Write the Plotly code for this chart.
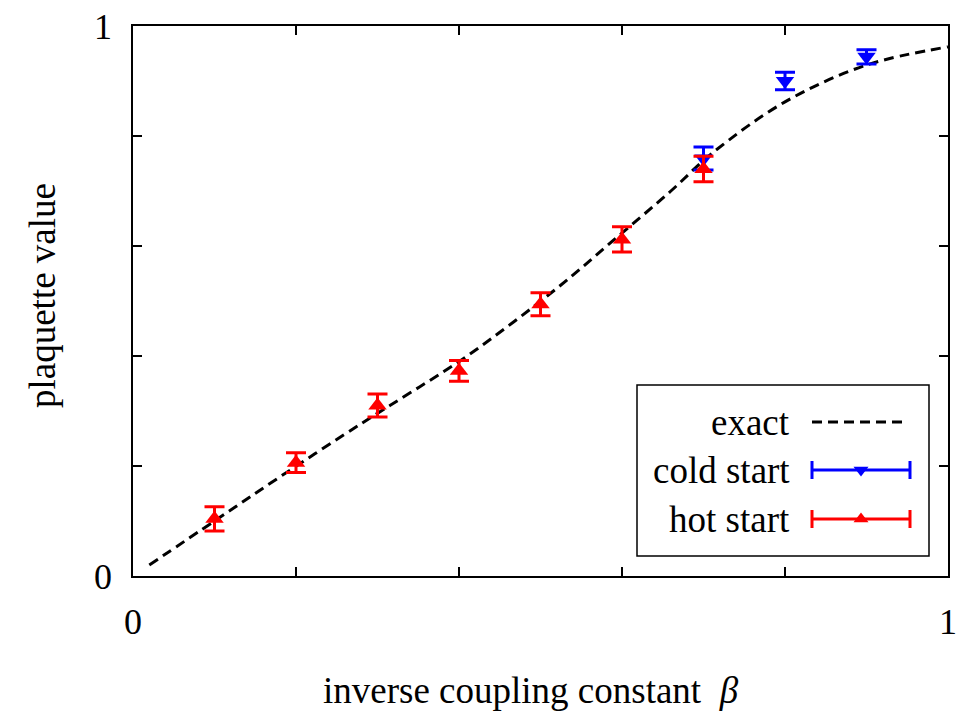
import plotly.graph_objects as go

# ---- data ----
beta_exact = [0.02, 0.10, 0.18, 0.28, 0.34, 0.41, 0.52, 0.59, 0.66, 0.71, 0.80, 0.90, 1.00]
plaq_exact = [0.020, 0.100, 0.180, 0.277, 0.333, 0.400, 0.523, 0.611, 0.700, 0.768, 0.862, 0.929, 0.962]

beta_cold = [0.7, 0.8, 0.9]
plaq_cold = [0.759, 0.900, 0.944]
err_cold = [0.021, 0.016, 0.013]

beta_hot = [0.1, 0.2, 0.3, 0.4, 0.5, 0.6, 0.7]
plaq_hot = [0.104, 0.206, 0.310, 0.373, 0.494, 0.612, 0.740]
err_hot = [0.022, 0.018, 0.021, 0.019, 0.021, 0.023, 0.023]

tick_vals = [0, 0.2, 0.4, 0.6, 0.8, 1.0]
tick_text = ["0", "", "", "", "", "1"]

legend_names = ["exact", "cold start", "hot start"]

# ---- layout constants (pixels) ----
W, H = 967, 718
L, R, T, B = 133, 948, 26, 576
FONT = "Liberation Serif"
FS = 37
TFS = 36
RED = "#ff0000"
BLUE = "#0000ff"


def px_x(p):
    return (p - L) / (R - L)


def px_y(p):
    return (B - p) / (B - T)


fig = go.Figure()

fig.add_trace(go.Scatter(
    x=beta_exact, y=plaq_exact, mode="lines", line_shape="spline",
    line=dict(color="black", width=3, dash="10px,6px"), hoverinfo="skip"))

fig.add_trace(go.Scatter(
    x=beta_cold, y=plaq_cold, mode="markers",
    marker=dict(symbol="triangle-down", size=16, color=BLUE),
    error_y=dict(type="data", array=err_cold, color=BLUE, thickness=3, width=10),
    cliponaxis=False))

fig.add_trace(go.Scatter(
    x=beta_hot, y=plaq_hot, mode="markers",
    marker=dict(symbol="triangle-up", size=16, color=RED),
    error_y=dict(type="data", array=err_hot, color=RED, thickness=3, width=10),
    cliponaxis=False))

# ---- custom legend on a pixel-coordinate overlay axis ----
box = dict(x0=637, x1=929, y0=385, y1=556)
rows = [422, 470, 519]
text_right = 792
s0, s1 = 812, 910
smid = (s0 + s1) / 2

fig.add_shape(type="rect", xref="x2", yref="y2", **box,
              line=dict(color="black", width=1.5), fillcolor="white", layer="below")

fig.add_shape(type="line", xref="x2", yref="y2", x0=s0, x1=s1 - 5, y0=rows[0], y1=rows[0],
              line=dict(color="black", width=3, dash="10px,6px"), layer="above")

for yy, col, sym in [(rows[1], BLUE, "triangle-down"), (rows[2], RED, "triangle-up")]:
    fig.add_trace(go.Scatter(
        x=[smid], y=[yy], xaxis="x2", yaxis="y2", mode="markers",
        marker=dict(symbol=sym, size=13, color=col),
        error_x=dict(type="data", array=[(s1 - s0) / 2], color=col, thickness=3, width=9),
        hoverinfo="skip", cliponaxis=False))

for name, yy in zip(legend_names, rows):
    fig.add_annotation(x=text_right, y=yy, xref="x2", yref="y2", text=name,
                       showarrow=False, xanchor="right", yanchor="middle",
                       font=dict(family=FONT, size=FS, color="black"))

# axis titles
fig.add_annotation(x=px_x(531), y=px_y(690), xref="paper", yref="paper",
                   text="inverse coupling constant  <i>β</i>", showarrow=False,
                   xanchor="center", yanchor="middle",
                   font=dict(family=FONT, size=FS, color="black"))
fig.add_annotation(x=px_x(42), y=px_y(296), xref="paper", yref="paper",
                   text="plaquette value",
                   textangle=-90, showarrow=False, xanchor="center", yanchor="middle",
                   font=dict(family=FONT, size=FS, color="black"))

axis_common = dict(
    range=[0, 1], tickvals=tick_vals, ticktext=tick_text, ticks="inside",
    ticklen=9, tickwidth=1.5, tickcolor="black", showline=True, linecolor="black",
    linewidth=1.5, mirror="ticks", showgrid=False, zeroline=False, automargin=False,
    tickfont=dict(family=FONT, size=TFS, color="black"))

fig.update_layout(
    width=W, height=H, showlegend=False,
    margin=dict(l=L, r=W - R, t=T, b=H - B, pad=0, autoexpand=False),
    paper_bgcolor="white", plot_bgcolor="white",
    xaxis=dict(**axis_common, ticklabelstandoff=13),
    yaxis=dict(**axis_common, ticklabelstandoff=12),
    xaxis2=dict(overlaying="x", range=[L, R], visible=False, fixedrange=True),
    yaxis2=dict(overlaying="y", range=[B, T], visible=False, fixedrange=True),
)

fig.write_html("out.html")
